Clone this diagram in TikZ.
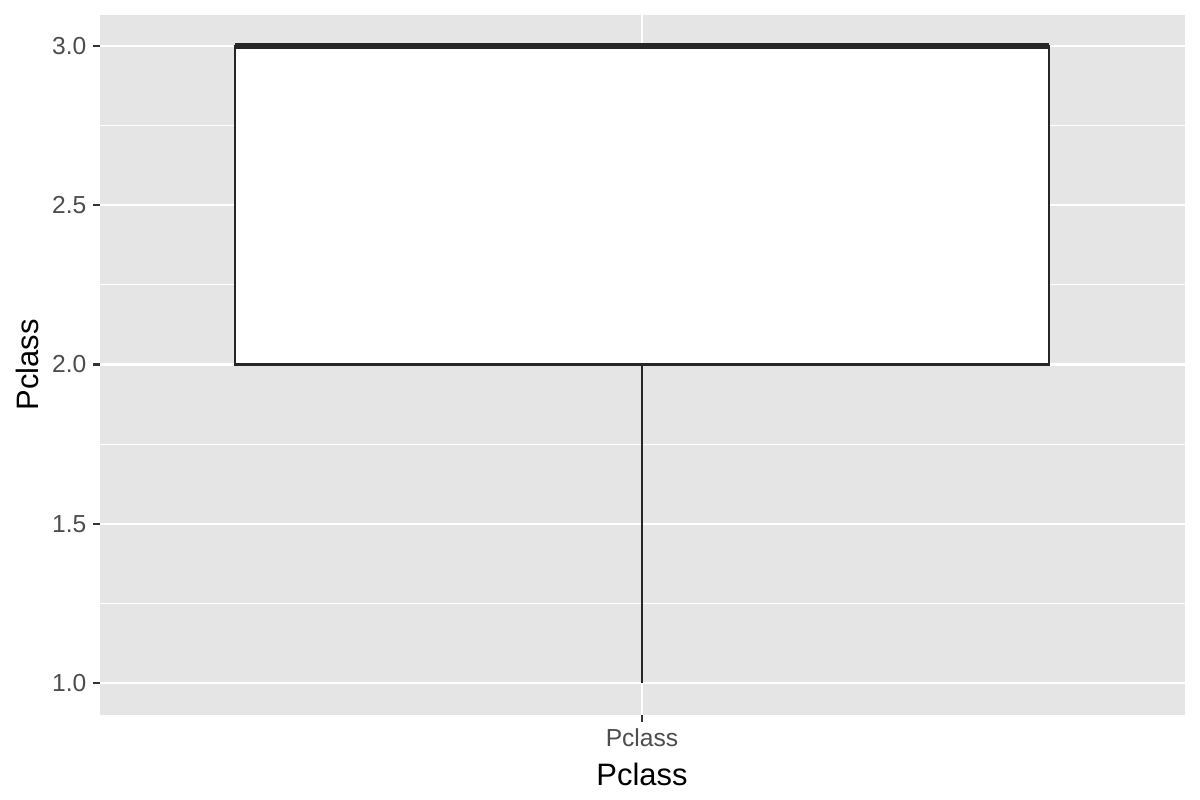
\documentclass[tikz,border=0pt]{standalone}
\usepackage{fontspec}
\setmainfont{Liberation Sans}
\usepackage{tikz}
\usetikzlibrary{positioning}
\definecolor{panelgray}{HTML}{E5E5E5}
\definecolor{boxline}{HTML}{262626}
\definecolor{tickline}{HTML}{333333}
\definecolor{ticktext}{HTML}{4D4D4D}
\tikzset{
  every node/.style={
    font=\fontsize{7}{8}\selectfont
  },
  major grid/.style={
    draw=white,
    line width=0.6pt
  },
  minor grid/.style={
    draw=white,
    line width=0.3pt
  },
  tick mark/.style={
    draw=tickline,
    line width=0.65pt
  },
  tick label/.style={
    text=ticktext,
    inner sep=0pt
  },
  axis title/.style={
    font=\fontsize{8.8}{10}\selectfont,
    text=black,
    inner sep=0pt
  },
  box outline/.style={
    draw=boxline,
    fill=white,
    line width=0.75pt
  },
  median/.style={
    draw=boxline,
    line width=1.5pt
  }
}

\begin{document}
\begin{tikzpicture}[x=0.01cm,y=-0.01cm]
    \useasboundingbox (0,0) rectangle (1200,800);
    % panel
    \fill [panelgray] (100,15) rectangle (1185,715);
    \foreach \v in {1.25,1.75,2.25,2.75}
      \draw [minor grid] (100,{1001.5-318.5*\v}) -- (1185,{1001.5-318.5*\v});
    \foreach \v in {1.0,1.5,2.0,2.5,3.0} {
      \draw [major grid] (100,{1001.5-318.5*\v}) -- (1185,{1001.5-318.5*\v});
      \draw [tick mark] (93,{1001.5-318.5*\v}) -- (100,{1001.5-318.5*\v});
      \node [tick label, anchor=east] (ylab\v) at (87,{1001.5-318.5*\v}) {\v};
    }
    \draw [major grid] (642,15) -- (642,715);
    \draw [tick mark] (642,715) -- (642,722);
    \node [tick label, anchor=base] (xlab) at (642,746) {Pclass};
    % box and whisker
    \coordinate (boxsw) at (235,364.5);
    \coordinate (boxne) at (1049,46);
    \coordinate (boxbottom) at (642,364.5);
    \coordinate (whiskerend) at (642,683);
    \draw [box outline] (boxsw) rectangle (boxne);
    \draw [box outline] (boxbottom) -- (whiskerend);
    \draw [median] (235,46) -- (boxne);
    % axis titles
    \node [axis title, anchor=base] (xtitle) at (642,785) {Pclass};
    \node [axis title, rotate=90] (ytitle) at (27,365) {Pclass};
\end{tikzpicture}
\end{document}
